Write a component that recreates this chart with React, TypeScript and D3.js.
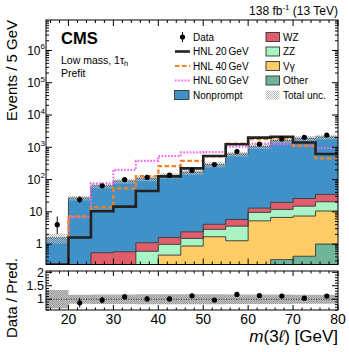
import React from "react";
import * as d3 from "d3";

// bin lower edges (GeV), width 5
const massBins = [15, 20, 25, 30, 35, 40, 45, 50, 55, 60, 65, 70, 75];
const binWidth = 5;

// stacked backgrounds (bottom to top)
const otherBkg = [0, 0, 0, 0, 0, 0, 0, 0, 0, 0, 0.33, 0.42, 1.0];
const vgamma = [0, 0, 0, 0, 0, 0.455, 0.87, 1.69, 1.27, 5.25, 6.37, 6.98, 9.6];
const zz = [0, 0, 0, 0, 0.6, 0.525, 0.63, 1.17, 2.33, 4.35, 5.2, 7.6, 9.9];
const wz = [0, 0, 0.54, 0.58, 0.5, 0.63, 0.9, 1.24, 2.2, 3.4, 7.7, 11, 14.2];
const nonprompt = [1.56, 27, 63.5, 89.4, 108.9, 131.4, 167.6, 287.9, 614.2, 1057, 1600, 1874, 2065];
const totalUnc = [0.34, 0.17, 0.18, 0.18, 0.19, 0.19, 0.19, 0.19, 0.18, 0.18, 0.18, 0.17, 0.17];

// signals
const hnl20 = [0, 1.6, 10.4, 14.5, 44, 125, 222, 535, 1240, 1990, 2130, 1400, 620];
const hnl40 = [0, 7.2, 13.7, 53, 128, 262, 380, 520, 1300, 1800, 1880, 1100, 450];
const hnl60 = [0, 6.8, 76, 200, 380, 530, 700, 710, 1040, 1300, 1250, 1100, 950];

// observed
const dataCounts = [4, 24, 64, 100, 116, 137, 192, 292, 740, 1260, 1820, 2040, 2400];
const ratioVals = [2.56, 0.87, 0.97, 1.09, 1.01, 1.01, 1.13, 0.97, 1.18, 1.14, 1.12, 1.04, 1.12];

const xTickLabels = [20, 30, 40, 50, 60, 70, 80];
const yTickExps = [0, 1, 2, 3, 4, 5, 6];
const ratioTicks = [1, 1.5, 2];

const colors = {
  nonprompt: "#4191c9",
  wz: "#e15d6c",
  zz: "#a8f4c4",
  vg: "#ffcc66",
  other: "#6fb59a",
  hnl20: "#222222",
  hnl40: "#f5821f",
  hnl60: "#f564f5",
};

const FONT = "'Liberation Sans', Arial, Helvetica, sans-serif";

const L = 46, R = 338, T = 20, B = 264.5;
const RT = 271, RB = 310;

export default function App() {
  const x = d3.scaleLinear().domain([15, 80]).range([L, R]);
  const y = d3.scaleLog().domain([0.233, 8.8e6]).range([B, T]).clamp(true);
  const yr = d3.scaleLinear().domain([0.6, 2.05]).range([RB, RT]).clamp(true);
  const yv = (v: number) => y(Math.max(v, 1e-4));

  const stackDefs = [
    { key: "other", vals: otherBkg, color: colors.other },
    { key: "vg", vals: vgamma, color: colors.vg },
    { key: "zz", vals: zz, color: colors.zz },
    { key: "wz", vals: wz, color: colors.wz },
    { key: "nonprompt", vals: nonprompt, color: colors.nonprompt },
  ];
  const cum: number[][] = [];
  stackDefs.forEach((s, k) => {
    cum.push(s.vals.map((v, i) => v + (k > 0 ? cum[k - 1][i] : 0)));
  });
  const total = cum[cum.length - 1];
  const zeros = massBins.map(() => 0);

  const stepLine = d3
    .line<[number, number]>()
    .x((d) => x(d[0]))
    .y((d) => yv(d[1]))
    .curve(d3.curveStepAfter);
  const stepArea = d3
    .area<[number, number, number]>()
    .x((d) => x(d[0]))
    .y0((d) => yv(d[1]))
    .y1((d) => yv(d[2]))
    .curve(d3.curveStepAfter);
  const stepPts = (vals: number[]): [number, number][] => {
    const pts: [number, number][] = massBins.map((m, i) => [m, vals[i]]);
    pts.push([massBins[massBins.length - 1] + binWidth, vals[vals.length - 1]]);
    return pts;
  };
  const areaPts = (lo: number[], hi: number[]): [number, number, number][] => {
    const pts: [number, number, number][] = massBins.map((m, i) => [m, lo[i], hi[i]]);
    const n = massBins.length - 1;
    pts.push([massBins[n] + binWidth, lo[n], hi[n]]);
    return pts;
  };

  const xMinor = d3.range(16, 80.01, 2).filter((v) => v % 10 !== 0);
  const yMinor: number[] = [];
  for (let e = -1; e <= 6; e++) for (let k = 2; k <= 9; k++) {
    const v = k * Math.pow(10, e);
    if (v > 0.233 && v < 8.8e6) yMinor.push(v);
  }
  const rMinor = d3.range(0.6, 2.051, 0.1).map((v) => Math.round(v * 10) / 10).filter((v) => Math.abs(v * 2 - Math.round(v * 2)) > 1e-6);

  const legendRows = [37, 51.5, 66, 80.5, 95];

  const uncLo = total.map((t, i) => t * (1 - totalUnc[i]));
  const uncHi = total.map((t, i) => t * (1 + totalUnc[i]));
  const rLo = totalUnc.map((u) => 1 - u);
  const rHi = totalUnc.map((u) => 1 + u);
  const areaR = d3
    .area<[number, number, number]>()
    .x((d) => x(d[0]))
    .y0((d) => yr(d[1]))
    .y1((d) => yr(d[2]))
    .curve(d3.curveStepAfter);

  return (
    <svg width={349} height={352} style={{ position: "absolute", left: 0, top: 0, background: "#fff" }} fontFamily={FONT}>
      <defs>
        <clipPath id="mainClip"><rect x={L} y={T} width={R - L} height={B - T} /></clipPath>
        <clipPath id="ratioClip"><rect x={L} y={RT} width={R - L} height={RB - RT} /></clipPath>
        <pattern id="unc" width={2} height={2} patternUnits="userSpaceOnUse">
          <rect x={0} y={0} width={1} height={1} fill="#b4b4b4" />
          <rect x={1} y={1} width={1} height={1} fill="#b4b4b4" />
        </pattern>
        <pattern id="uncR" width={2} height={2} patternUnits="userSpaceOnUse">
          <rect x={0} y={0} width={2} height={2} fill="#c4c4c4" />
          <rect x={0} y={0} width={1} height={1} fill="#9a9a9a" />
          <rect x={1} y={1} width={1} height={1} fill="#9a9a9a" />
        </pattern>
      </defs>

      {/* main plot contents */}
      <g clipPath="url(#mainClip)">
        {stackDefs.map((s, k) => (
          <path key={"f" + s.key} d={stepArea(areaPts(k > 0 ? cum[k - 1] : zeros, cum[k])) || ""} fill={s.color} stroke="none" />
        ))}
        {stackDefs.map((s, k) => (
          <path key={"o" + s.key} d={stepLine(stepPts(cum[k])) || ""} fill="none" stroke="#333" strokeWidth={0.9} />
        ))}
        <path d={stepArea(areaPts(uncLo, uncHi)) || ""} fill="url(#unc)" stroke="none" />
        <path d={stepLine(stepPts(hnl60)) || ""} fill="none" stroke={colors.hnl60} strokeWidth={2.2} strokeDasharray="1.6,1.6" />
        <path d={stepLine(stepPts(hnl40)) || ""} fill="none" stroke={colors.hnl40} strokeWidth={2.2} strokeDasharray="4.5,2.5" />
        <path d={stepLine(stepPts(hnl20)) || ""} fill="none" stroke={colors.hnl20} strokeWidth={2.6} />
        {dataCounts.map((n, i) => {
          const cx = x(massBins[i] + binWidth / 2);
          const up = n + Math.sqrt(n + 0.75) + 1;
          const lo = n - Math.sqrt(Math.max(n - 0.25, 0));
          return (
            <g key={"d" + i}>
              <line x1={cx} x2={cx} y1={yv(up)} y2={yv(lo)} stroke="#000" strokeWidth={1} />
              <circle cx={cx} cy={yv(n)} r={2.6} fill="#000" />
            </g>
          );
        })}
      </g>

      {/* main frame & ticks */}
      <rect x={L} y={T} width={R - L} height={B - T} fill="none" stroke="#000" strokeWidth={1} />
      {xTickLabels.map((v) => (
        <g key={"xt" + v}>
          <line x1={x(v)} x2={x(v)} y1={B} y2={B - 6} stroke="#000" />
          <line x1={x(v)} x2={x(v)} y1={T} y2={T + 6} stroke="#000" />
        </g>
      ))}
      {xMinor.map((v) => (
        <g key={"xm" + v}>
          <line x1={x(v)} x2={x(v)} y1={B} y2={B - 3} stroke="#000" />
          <line x1={x(v)} x2={x(v)} y1={T} y2={T + 3} stroke="#000" />
        </g>
      ))}
      {yTickExps.map((e) => {
        const yy = y(Math.pow(10, e));
        return (
          <g key={"yt" + e}>
            <line x1={L} x2={L + 6} y1={yy} y2={yy} stroke="#000" />
            <line x1={R} x2={R - 6} y1={yy} y2={yy} stroke="#000" />
            {e < 2 ? (
              <text x={42.5} y={yy + 4.3} fontSize={12} textAnchor="end">{e === 0 ? "1" : "10"}</text>
            ) : (
              <text x={45} y={yy + 4.3} fontSize={12} textAnchor="end">
                10<tspan fontSize={8} dy={-5.5}>{e}</tspan>
              </text>
            )}
          </g>
        );
      })}
      {yMinor.map((v, i) => (
        <g key={"ym" + i}>
          <line x1={L} x2={L + 3} y1={y(v)} y2={y(v)} stroke="#000" />
          <line x1={R} x2={R - 3} y1={y(v)} y2={y(v)} stroke="#000" />
        </g>
      ))}

      {/* ratio panel */}
      <g clipPath="url(#ratioClip)">
        <path d={areaR(areaPts(rLo, rHi)) || ""} fill="url(#uncR)" stroke="none" />
        <line x1={L} x2={R} y1={yr(1)} y2={yr(1)} stroke="#000" strokeWidth={0.8} strokeDasharray="1,1.5" />
        {ratioVals.map((r, i) => {
          if (r > 2.05 || r < 0.6) return null;
          const cx = x(massBins[i] + binWidth / 2);
          const err = r / Math.sqrt(dataCounts[i]);
          return (
            <g key={"r" + i}>
              <line x1={cx} x2={cx} y1={yr(r + err)} y2={yr(r - err)} stroke="#000" strokeWidth={1} />
              <circle cx={cx} cy={yr(r)} r={2.6} fill="#000" />
            </g>
          );
        })}
      </g>
      <rect x={L} y={RT} width={R - L} height={RB - RT} fill="none" stroke="#000" strokeWidth={1} />
      {xTickLabels.map((v) => (
        <g key={"rxt" + v}>
          <line x1={x(v)} x2={x(v)} y1={RB} y2={RB - 5} stroke="#000" />
          <line x1={x(v)} x2={x(v)} y1={RT} y2={RT + 5} stroke="#000" />
          <text x={x(v)} y={323.5} fontSize={14} textAnchor="middle">{v}</text>
        </g>
      ))}
      {xMinor.map((v) => (
        <g key={"rxm" + v}>
          <line x1={x(v)} x2={x(v)} y1={RB} y2={RB - 2.5} stroke="#000" />
          <line x1={x(v)} x2={x(v)} y1={RT} y2={RT + 2.5} stroke="#000" />
        </g>
      ))}
      {ratioTicks.map((v) => (
        <g key={"ryt" + v}>
          <line x1={L} x2={L + 6} y1={yr(v)} y2={yr(v)} stroke="#000" />
          <line x1={R} x2={R - 6} y1={yr(v)} y2={yr(v)} stroke="#000" />
          <text x={44} y={yr(v) + 4.2} fontSize={12.5} textAnchor="end">{v}</text>
        </g>
      ))}
      {rMinor.map((v) => (
        <g key={"rym" + v}>
          <line x1={L} x2={L + 3} y1={yr(v)} y2={yr(v)} stroke="#000" />
          <line x1={R} x2={R - 3} y1={yr(v)} y2={yr(v)} stroke="#000" />
        </g>
      ))}

      {/* axis titles */}
      <text transform="translate(17,20) rotate(-90)" fontSize={15} textAnchor="end">Events / 5 GeV</text>
      <text transform="translate(17,298) rotate(-90)" fontSize={15} textAnchor="middle">Data / Pred.</text>
      <text x={338} y={342} fontSize={17} textAnchor="end">
        <tspan fontStyle="italic">m</tspan>(3<tspan fontStyle="italic">ℓ</tspan>) [GeV]
      </text>

      {/* header */}
      <text x={338} y={14.5} fontSize={12} textAnchor="end">
        138 fb<tspan fontSize={8} dy={-5}>-1</tspan><tspan dy={5}> (13 TeV)</tspan>
      </text>
      <text x={61} y={43.5} fontSize={16.5} fontWeight="bold">CMS</text>
      <text x={61} y={63.5} fontSize={10.5}>
        Low mass, 1τ<tspan fontSize={7.5} dy={2.5}>h</tspan>
      </text>
      <text x={61} y={77} fontSize={10.5}>Prefit</text>

      {/* legend */}
      <g fontSize={10}>
        <line x1={182.5} x2={182.5} y1={legendRows[0] - 5} y2={legendRows[0] + 5} stroke="#000" />
        <circle cx={182.5} cy={legendRows[0]} r={2.6} fill="#000" />
        <text x={193} y={legendRows[0] + 3.5}>Data</text>

        <line x1={175} x2={190} y1={legendRows[1]} y2={legendRows[1]} stroke={colors.hnl20} strokeWidth={2.6} />
        <text x={193} y={legendRows[1] + 3.5}>HNL 20{"\u2009"}GeV</text>

        <line x1={175} x2={190} y1={legendRows[2]} y2={legendRows[2]} stroke={colors.hnl40} strokeWidth={2.2} strokeDasharray="4.5,2.5" />
        <text x={193} y={legendRows[2] + 3.5}>HNL 40{"\u2009"}GeV</text>

        <line x1={175} x2={190} y1={legendRows[3]} y2={legendRows[3]} stroke={colors.hnl60} strokeWidth={2.2} strokeDasharray="1.6,1.6" />
        <text x={193} y={legendRows[3] + 3.5}>HNL 60{"\u2009"}GeV</text>

        <rect x={174.5} y={legendRows[4] - 4.5} width={14.5} height={9} fill={colors.nonprompt} stroke="#333" strokeWidth={0.9} />
        <text x={193} y={legendRows[4] + 3.5}>Nonprompt</text>

        {[
          { label: "WZ", color: colors.wz },
          { label: "ZZ", color: colors.zz },
          { label: "Vγ", color: colors.vg },
          { label: "Other", color: colors.other },
        ].map((e, i) => (
          <g key={e.label}>
            <rect x={266} y={legendRows[i] - 4.5} width={13.5} height={9} fill={e.color} stroke="#333" strokeWidth={0.9} />
            <text x={283} y={legendRows[i] + 3.5}>{e.label}</text>
          </g>
        ))}
        <rect x={266} y={legendRows[4] - 4.5} width={13.5} height={9} fill="url(#unc)" />
        <text x={283} y={legendRows[4] + 3.5}>Total unc.</text>
      </g>
    </svg>
  );
}
